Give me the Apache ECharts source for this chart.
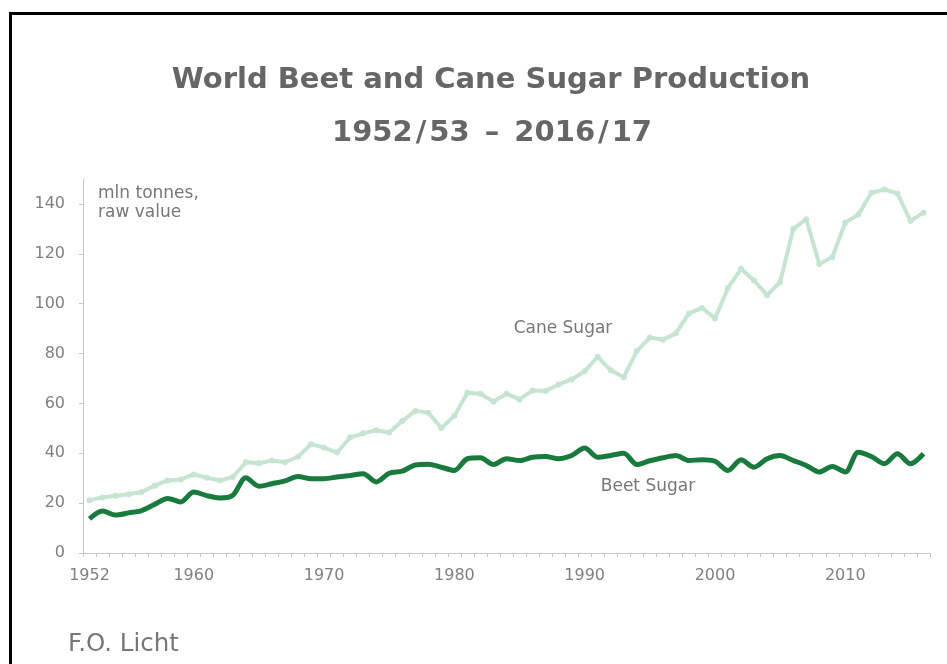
<!DOCTYPE html>
<html>
<head>
<meta charset="utf-8">
<title>World Beet and Cane Sugar Production</title>
<script src="https://cdn.jsdelivr.net/npm/echarts@6/dist/echarts.min.js"></script>
<style>
  html, body { margin: 0; padding: 0; background: #fff; }
  #chart { width: 947px; height: 664px; }
</style>
</head>
<body>
<div id="chart"></div>
<script>
// crop years 1952/53 .. 2016/17, named by the first year
const years = [
  '1952', '1953', '1954', '1955', '1956', '1957', '1958', '1959', '1960', '1961',
  '1962', '1963', '1964', '1965', '1966', '1967', '1968', '1969', '1970', '1971',
  '1972', '1973', '1974', '1975', '1976', '1977', '1978', '1979', '1980', '1981',
  '1982', '1983', '1984', '1985', '1986', '1987', '1988', '1989', '1990', '1991',
  '1992', '1993', '1994', '1995', '1996', '1997', '1998', '1999', '2000', '2001',
  '2002', '2003', '2004', '2005', '2006', '2007', '2008', '2009', '2010', '2011',
  '2012', '2013', '2014', '2015', '2016'
]
const labelYears = ['1952', '1960', '1970', '1980', '1990', '2000', '2010']

// mln tonnes, raw value
const caneSugar = [
  21.2, 22.3, 23.0, 23.6, 24.5, 27.0, 29.1, 29.5, 31.5, 30.2,
  29.1, 30.5, 36.4, 36.0, 37.1, 36.4, 38.6, 43.6, 42.3, 40.3,
  46.3, 48.0, 49.2, 48.3, 52.9, 57.0, 56.3, 50.1, 55.0, 64.3,
  63.9, 60.7, 63.9, 61.6, 65.2, 65.0, 67.6, 69.6, 72.9, 78.7,
  73.3, 70.5, 81.0, 86.4, 85.5, 88.1, 96.1, 98.3, 94.1, 106.3,
  114.0, 109.3, 103.4, 108.7, 129.9, 133.9, 115.9, 118.6, 132.5, 135.8,
  144.5, 145.8, 144.2, 133.2, 136.5
]
const beetSugar = [
  13.7, 16.8, 15.2, 16.1, 17.0, 19.5, 21.9, 20.5, 24.5, 23.0,
  22.1, 23.2, 30.2, 26.8, 27.8, 28.9, 30.7, 29.8, 29.8, 30.5,
  31.1, 31.8, 28.5, 32.0, 32.8, 35.3, 35.6, 34.4, 33.1, 37.8,
  38.2, 35.5, 37.8, 37.1, 38.4, 38.7, 37.8, 39.1, 42.1, 38.4,
  39.1, 40.0, 35.5, 37.0, 38.2, 39.1, 37.1, 37.4, 36.8, 33.1,
  37.4, 34.4, 37.8, 39.1, 37.1, 35.1, 32.5, 34.7, 32.5, 40.4,
  38.7, 35.8, 39.8, 35.8, 39.8
]

const font = 'DejaVu Sans'
const chart = echarts.init(document.getElementById('chart'))

chart.setOption({
  animation: false,
  textStyle: { fontFamily: font },
  grid: { left: 83, right: 17, top: 179, bottom: 111 },
  xAxis: {
    type: 'category',
    data: years,
    boundaryGap: true,
    axisLine: { show: true, lineStyle: { color: '#c8c8c8', width: 1 } },
    axisTick: { show: true, interval: 0, length: 4, lineStyle: { color: '#c8c8c8' } },
    axisLabel: {
      interval: (idx, val) => labelYears.includes(val),
      color: '#808080',
      fontSize: 16,
      margin: 15
    },
    splitLine: { show: false }
  },
  yAxis: {
    type: 'value',
    min: 0,
    max: 150,
    interval: 20,
    axisLine: { show: true, lineStyle: { color: '#c8c8c8', width: 1 } },
    axisTick: { show: true, length: 4, lineStyle: { color: '#c8c8c8' } },
    axisLabel: { color: '#808080', fontSize: 16, margin: 18, showMaxLabel: false },
    splitLine: { show: false }
  },
  series: [
    {
      name: 'Cane Sugar',
      type: 'line',
      data: caneSugar,
      symbol: 'circle',
      symbolSize: 6,
      showSymbol: true,
      showAllSymbol: true,
      lineStyle: { color: '#c6e4d2', width: 4 },
      itemStyle: { color: '#c6e4d2' },
      z: 2
    },
    {
      name: 'Beet Sugar',
      type: 'line',
      data: beetSugar,
      smooth: 0.3,
      showSymbol: false,
      lineStyle: { color: '#187a3c', width: 5 },
      itemStyle: { color: '#187a3c' },
      z: 3
    }
  ],
  graphic: [
    // frame
    {
      type: 'rect',
      shape: { x: 10.5, y: 13.5, width: 1200, height: 1200 },
      style: { fill: 'none', stroke: '#000', lineWidth: 3 },
      silent: true
    },
    {
      type: 'text',
      x: 491, y: 80,
      style: {
        text: 'World Beet and Cane Sugar Production',
        font: 'bold 29px "DejaVu Sans"',
        fill: '#666666',
        align: 'center',
        verticalAlign: 'middle'
      }
    },
    {
      type: 'text',
      x: 492, y: 133,
      style: {
        text: '1952{s|/}53 {d|\u2013} 2016{s|/}17',
        font: 'bold 29px "DejaVu Sans"',
        fill: '#666666',
        align: 'center',
        verticalAlign: 'middle',
        rich: {
          s: { font: 'bold 29px "DejaVu Sans"', fill: '#666666', padding: [0, 3] },
          d: { font: 'bold 29px "DejaVu Sans"', fill: '#666666', padding: [0, 5] }
        }
      }
    },
    {
      type: 'text',
      x: 98, y: 184,
      style: {
        text: 'mln tonnes,\nraw value',
        font: '17px "DejaVu Sans"',
        lineHeight: 19,
        fill: '#777777',
        align: 'left',
        verticalAlign: 'top'
      }
    },
    {
      type: 'text',
      x: 563, y: 329,
      style: {
        text: 'Cane Sugar',
        font: '17px "DejaVu Sans"',
        fill: '#777777',
        align: 'center',
        verticalAlign: 'middle'
      }
    },
    {
      type: 'text',
      x: 648, y: 487,
      style: {
        text: 'Beet Sugar',
        font: '17px "DejaVu Sans"',
        fill: '#777777',
        align: 'center',
        verticalAlign: 'middle'
      }
    },
    {
      type: 'text',
      x: 68, y: 645,
      style: {
        text: 'F.O. Licht',
        font: '24.5px "DejaVu Sans"',
        fill: '#777777',
        align: 'left',
        verticalAlign: 'middle'
      }
    }
  ]
})
</script>
</body>
</html>
